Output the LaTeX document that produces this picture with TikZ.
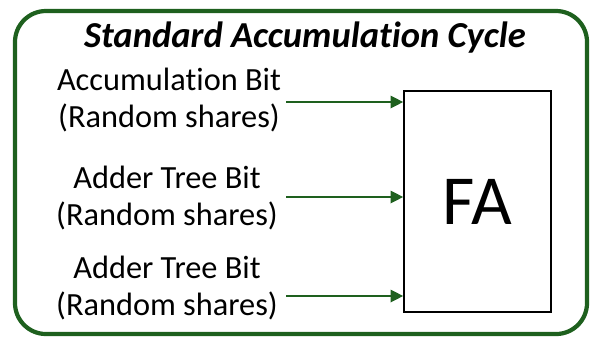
\documentclass[tikz,border=0pt]{standalone}
\usepackage{fontspec}
\setmainfont{Carlito}[Ligatures=NoCommon]
\usepackage{tikz}
\usetikzlibrary{arrows.meta}
\definecolor{cyclegreen}{RGB}{30,96,30}

\tikzset{
	inlabel/.style={align=center,font=\fontsize{23}{27}\selectfont,inner sep=0pt},
	inarrow/.style={cyclegreen,line width=0.9pt,-{Triangle[length=9pt,width=9pt]}},
}

\begin{document}
\begin{tikzpicture}[x=0.025cm,y=-0.025cm]
		\useasboundingbox (0,0) rectangle (590,337);
		\begin{scope}
			\draw[cyclegreen,line width=3pt,rounded corners=22pt] (15,11) rectangle (587,334);
			\node[font=\fontsize{26}{30}\selectfont\bfseries\itshape] (title) at (305,38) {Standard Accumulation Cycle};
			\node[draw,line width=1.2pt,minimum width=147*0.025cm,minimum height=221*0.025cm,
				font=\fontsize{50}{60}\selectfont,inner sep=0pt] (fa) at (477.5,201.5) {FA};
			\node[inlabel] (acc) at (169,100) {Accumulation Bit\\(Random shares)};
			\node[inlabel] (add1) at (167,198) {Adder Tree Bit\\(Random shares)};
			\node[inlabel] (add2) at (167,288) {Adder Tree Bit\\(Random shares)};
			\coordinate (s1) at (286,102);
			\coordinate (s2) at (286,197);
			\coordinate (s3) at (286,296);
			\draw[inarrow] (s1) -- (s1 -| fa.west);
			\draw[inarrow] (s2) -- (s2 -| fa.west);
			\draw[inarrow] (s3) -- (s3 -| fa.west);
		\end{scope}
	\end{tikzpicture}
\end{document}
